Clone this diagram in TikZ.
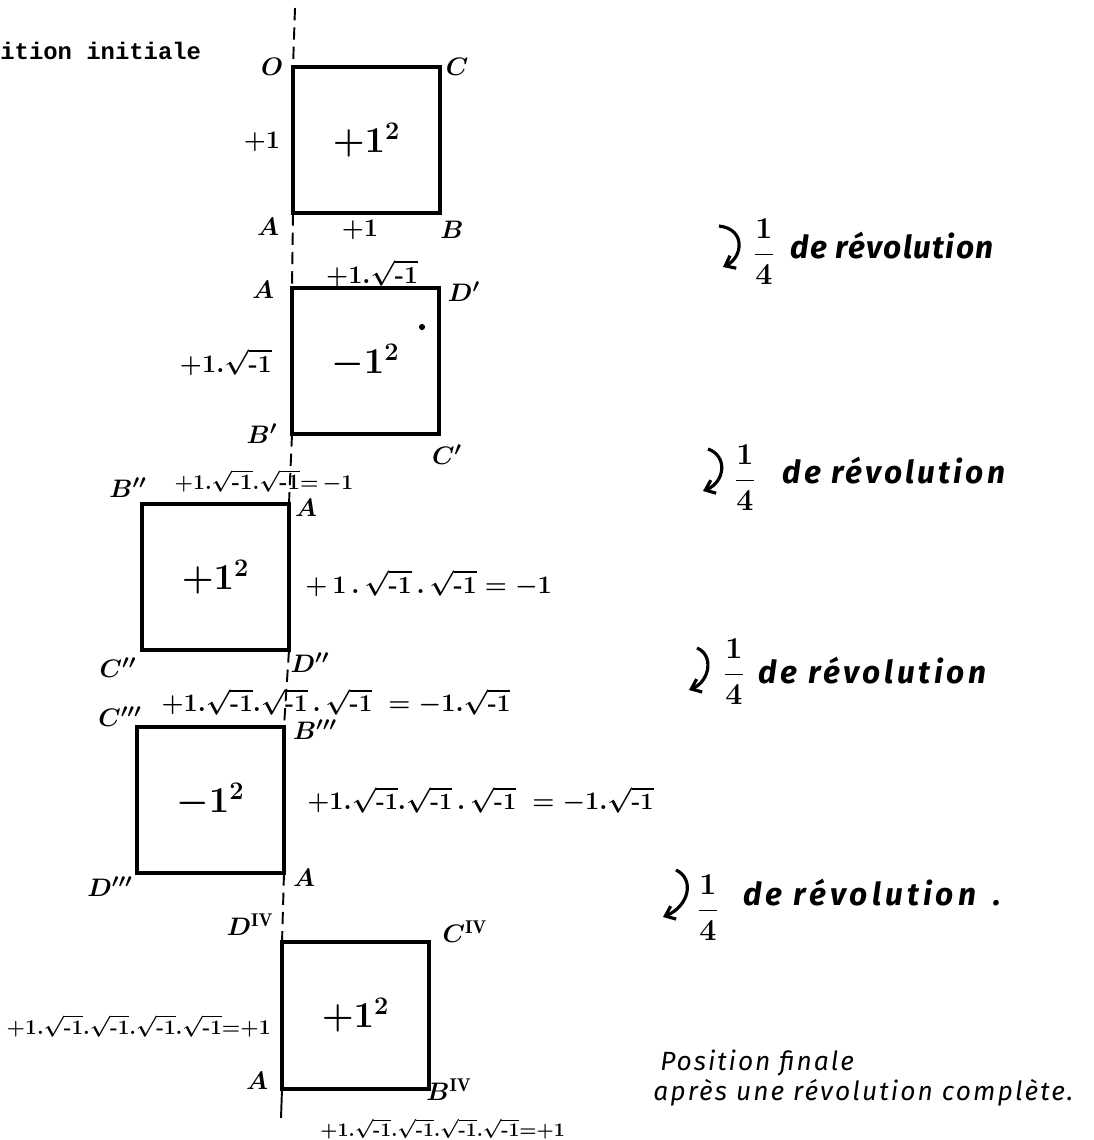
\documentclass[tikz,border=0pt]{standalone}
\usepackage{fontspec}
\setmonofont{Liberation Mono}
\newfontfamily\handfont{Fira Sans}
\usetikzlibrary{arrows.meta}
\newcommand{\rmo}{\sqrt{\mbox{\bfseries -1}}}
\begin{document}
\begin{tikzpicture}[x=0.02cm,y=-0.02cm,
  sq/.style={draw, line width=2.3pt, minimum width=2.94cm, minimum height=2.93cm,
    inner sep=0pt, outer sep=0pt, font=\fontsize{20}{22}\selectfont\boldmath},
  lbl/.style={font=\fontsize{15}{17}\selectfont\boldmath, inner sep=0pt},
  eq/.style={font=\fontsize{14}{16}\selectfont\boldmath, inner sep=0pt},
  axisline/.style={line width=1.1pt, dash pattern=on 7pt off 4pt},
  handtext/.style={font=\handfont\bfseries\itshape\fontsize{18}{20}\selectfont, inner sep=0pt, anchor=base west},
  handlight/.style={font=\handfont\itshape\fontsize{15}{18}\selectfont, inner sep=0pt, anchor=base west},
  quarter/.style={font=\fontsize{16}{18}\selectfont\boldmath, inner sep=0pt},
  rotarrow/.style={line width=1.8pt, -{Straight Barb[length=5pt,width=8pt]}},
]
\useasboundingbox (0,0) rectangle (1094,1140);

% title (cut at the left edge)
\node[font=\ttfamily\bfseries\fontsize{13.6}{15}\selectfont, anchor=base west, inner sep=0pt] (title) at (0,59) {ition initiale};

% squares
\node[sq] (s1) at (366.5,140) {$+1^{2}$};
\node[sq] (s2) at (365.5,361) {$-1^{2}$};
\node[sq] (s3) at (215.5,577) {$+1^{2}$};
\node[sq] (s4) at (210.5,800) {$-1^{2}$};
\node[sq] (s5) at (355.5,1015.5) {$+1^{2}$};

% axis of rotation
\coordinate (axtop) at (295,8);
\coordinate (axbot) at (281,1118);
\draw[axisline] (axtop) -- (s1.north west);
\draw[axisline] (s1.south west) -- (s2.north west);
\draw[axisline] (s2.south west) -- (s3.north east);
\draw[axisline] (s3.south east) -- (s4.north east);
\draw[axisline] (s4.south east) -- (s5.north west);
\draw[line width=1.1pt] (s5.south west) -- (axbot);

% square 1 labels
\node[lbl] (O1) at (272,67) {$O$};
\node[lbl] (C1) at (457,67) {$C$};
\node[lbl] (A1) at (268,227) {$A$};
\node[lbl] (B1) at (452,230) {$B$};
\node[eq] (e1l) at (262,142) {$+1$};
\node[eq] (e1b) at (360,230) {$+1$};

% square 2 labels
\node[lbl] (A2) at (263,290) {$A$};
\node[lbl] (D2) at (464,292) {$D'$};
\node[lbl] (B2) at (262,434) {$B'$};
\node[lbl] (C2) at (447,455) {$C'$};
\node[eq] (e2t) at (372,273) {$+1.\rmo$};
\node[eq, anchor=east] (e2l) at (272,362) {$+1.\rmo$};
\node[circle, fill, inner sep=0pt, minimum size=3.5pt] (dot) at (422,327) {};

% square 3 labels
\node[lbl] (B3) at (128,488) {$B''$};
\node[lbl] (A3) at (306,508) {$A$};
\node[lbl] (C3) at (118,668) {$C''$};
\node[lbl] (D3) at (310,663) {$D''$};
\node[eq, font=\fontsize{12.5}{14}\selectfont\boldmath] (e3t) at (264,481) {$+1.\rmo.\rmo{=}\,{-1}$};
\node[eq, anchor=west] (e3r) at (305,583) {$+\,1\,.\,\rmo\,.\,\rmo={-1}$};

% square 4 labels
\node[lbl] (C4) at (120,717) {$C'''$};
\node[lbl] (B4) at (315,730) {$B'''$};
\node[lbl] (D4) at (110,887) {$D'''$};
\node[lbl] (A4) at (304,878) {$A$};
\node[eq, font=\fontsize{13.7}{16}\selectfont\boldmath] (e4t) at (336,702) {$+1.\rmo.\rmo\,.\,\rmo\;={-1}.\rmo$};
\node[eq, anchor=west, font=\fontsize{13.3}{16}\selectfont\boldmath] (e4r) at (307,800) {$+1.\rmo.\rmo\,.\,\rmo\;={-1}.\rmo$};

% square 5 labels
\node[lbl] (D5) at (250,925) {$D^{\mathrm{IV}}$};
\node[lbl] (C5) at (465,932) {$C^{\mathrm{IV}}$};
\node[lbl] (A5) at (257,1081) {$A$};
\node[lbl] (B5) at (449,1090) {$B^{\mathrm{IV}}$};
\node[eq, anchor=east, font=\fontsize{11.7}{14}\selectfont\boldmath] (e5l) at (271,1026) {$+1.\rmo.\rmo.\rmo.\rmo{=}{+1}$};
\node[eq, anchor=west, font=\fontsize{11}{13}\selectfont\boldmath] (e5b) at (320,1129) {$+1.\rmo.\rmo.\rmo.\rmo{=}{+1}$};

% quarter revolutions
\node[quarter] (q1) at (764,252) {$\displaystyle\frac{1}{4}$};
\node[handtext, font=\handfont\bfseries\itshape\fontsize{18}{20}\selectfont\addfontfeature{LetterSpace=4.3}] (r1) at (790,258) {de révolution};
\coordinate (a1s) at (719,226);
\coordinate (a1e) at (723,267);
\draw[rotarrow] (a1s) .. controls (746,229) and (743,257) .. (a1e);

\node[quarter] (q2) at (745,478) {$\displaystyle\frac{1}{4}$};
\node[handtext, font=\handfont\bfseries\itshape\fontsize{18}{20}\selectfont\addfontfeature{LetterSpace=9.9}] (r2) at (782,483) {de révolution};
\coordinate (a2s) at (708,449);
\coordinate (a2e) at (703,491);
\draw[rotarrow] (a2s) .. controls (728,456) and (725,482) .. (a2e);

\node[quarter] (q3) at (734,672) {$\displaystyle\frac{1}{4}$};
\node[handtext, font=\handfont\bfseries\itshape\fontsize{18}{20}\selectfont\addfontfeature{LetterSpace=11.5}] (r3) at (758,683) {de révolution};
\coordinate (a3s) at (697,648);
\coordinate (a3e) at (689,690);
\draw[rotarrow] (a3s) .. controls (714,655) and (710,681) .. (a3e);

\node[quarter] (q4) at (708,908) {$\displaystyle\frac{1}{4}$};
\node[handtext, font=\handfont\bfseries\itshape\fontsize{18}{20}\selectfont\addfontfeature{LetterSpace=12.8}] (r4) at (743,905) {de révolution\hspace{10pt}.};
\coordinate (a4s) at (676,870);
\coordinate (a4e) at (663,917);
\draw[rotarrow] (a4s) .. controls (695,879) and (689,906) .. (a4e);

% final position
\node[handlight, font=\handfont\itshape\fontsize{15}{18}\selectfont\addfontfeature{LetterSpace=7.5}] (f1) at (660,1070) {Position finale};
\node[handlight, font=\handfont\itshape\fontsize{15}{18}\selectfont\addfontfeature{LetterSpace=8}] (f2) at (653,1100) {après une révolution complète.};
\end{tikzpicture}
\end{document}
